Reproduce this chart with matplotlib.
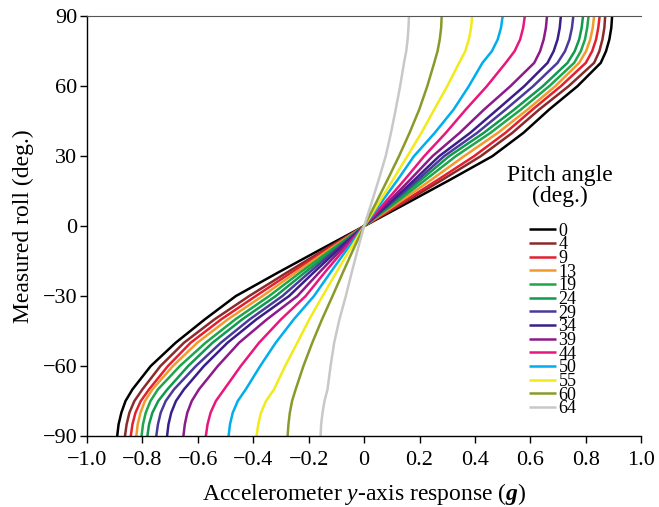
import matplotlib
matplotlib.use("Agg")
import matplotlib.pyplot as plt

plt.rcParams["font.family"] = "Liberation Serif"
plt.rcParams["mathtext.fontset"] = "custom"
plt.rcParams["mathtext.rm"] = "Liberation Serif"
plt.rcParams["mathtext.it"] = "Liberation Serif:italic"
plt.rcParams["mathtext.bf"] = "Liberation Serif:bold"
plt.rcParams["mathtext.bfit"] = "Liberation Serif:italic:bold"

# measured roll levels (deg.)
roll = [-90, -85, -80, -75, -70, -60, -50, -40, -30, -20, -10, 0,
        10, 20, 30, 40, 50, 60, 70, 75, 80, 85, 90]

pitch = [0, 4, 9, 13, 19, 24, 29, 34, 39, 44, 50, 55, 60, 64]

# accelerometer y-axis response (g) at each roll level, one list per pitch angle
resp_0 = [-0.891, -0.886, -0.876, -0.861, -0.836, -0.770, -0.680, -0.575, -0.463, -0.312, -0.157, 0.0,
          0.157, 0.312, 0.463, 0.575, 0.668, 0.770, 0.854, 0.873, 0.885, 0.892, 0.895]
resp_4 = [-0.863, -0.857, -0.847, -0.829, -0.800, -0.735, -0.650, -0.540, -0.415, -0.280, -0.141, 0.0,
          0.143, 0.284, 0.421, 0.535, 0.632, 0.738, 0.830, 0.849, 0.860, 0.867, 0.870]
resp_9 = [-0.842, -0.836, -0.825, -0.806, -0.776, -0.708, -0.626, -0.516, -0.391, -0.264, -0.133, 0.0,
          0.135, 0.268, 0.397, 0.510, 0.608, 0.710, 0.800, 0.823, 0.837, 0.845, 0.850]
resp_13 = [-0.822, -0.817, -0.807, -0.791, -0.764, -0.690, -0.602, -0.492, -0.367, -0.248, -0.125, 0.0,
           0.123, 0.244, 0.361, 0.483, 0.590, 0.690, 0.776, 0.801, 0.816, 0.825, 0.830]
resp_19 = [-0.803, -0.798, -0.788, -0.771, -0.744, -0.665, -0.572, -0.465, -0.343, -0.232, -0.117, 0.0,
           0.113, 0.223, 0.331, 0.456, 0.566, 0.668, 0.758, 0.782, 0.797, 0.805, 0.810]
resp_24 = [-0.782, -0.776, -0.764, -0.743, -0.710, -0.635, -0.547, -0.440, -0.319, -0.215, -0.108, 0.0,
           0.104, 0.207, 0.307, 0.432, 0.542, 0.645, 0.734, 0.760, 0.776, 0.785, 0.790]
resp_29 = [-0.750, -0.744, -0.734, -0.716, -0.686, -0.607, -0.517, -0.413, -0.295, -0.199, -0.100, 0.0,
           0.098, 0.195, 0.289, 0.408, 0.511, 0.610, 0.698, 0.725, 0.741, 0.750, 0.755]
resp_34 = [-0.711, -0.706, -0.696, -0.679, -0.650, -0.578, -0.493, -0.389, -0.271, -0.183, -0.092, 0.0,
           0.092, 0.183, 0.271, 0.383, 0.481, 0.578, 0.662, 0.684, 0.698, 0.706, 0.710]
resp_39 = [-0.652, -0.647, -0.638, -0.622, -0.596, -0.528, -0.451, -0.351, -0.241, -0.163, -0.082, 0.0,
           0.084, 0.167, 0.247, 0.345, 0.433, 0.528, 0.614, 0.635, 0.648, 0.656, 0.660]
resp_44 = [-0.571, -0.565, -0.554, -0.535, -0.505, -0.445, -0.379, -0.300, -0.211, -0.143, -0.072, 0.0,
           0.074, 0.147, 0.217, 0.295, 0.367, 0.443, 0.511, 0.543, 0.563, 0.574, 0.580]
resp_50 = [-0.489, -0.484, -0.474, -0.456, -0.427, -0.375, -0.319, -0.254, -0.181, -0.122, -0.062, 0.0,
           0.061, 0.122, 0.180, 0.255, 0.323, 0.378, 0.427, 0.461, 0.482, 0.494, 0.500]
resp_55 = [-0.388, -0.382, -0.372, -0.354, -0.325, -0.285, -0.241, -0.198, -0.150, -0.101, -0.051, 0.0,
           0.053, 0.105, 0.156, 0.207, 0.253, 0.300, 0.343, 0.365, 0.378, 0.386, 0.390]
resp_60 = [-0.276, -0.273, -0.268, -0.260, -0.247, -0.219, -0.187, -0.152, -0.114, -0.077, -0.039, 0.0,
           0.043, 0.085, 0.126, 0.164, 0.199, 0.228, 0.253, 0.265, 0.273, 0.278, 0.280]
resp_64 = [-0.157, -0.155, -0.150, -0.143, -0.132, -0.121, -0.108, -0.089, -0.066, -0.045, -0.023, 0.0,
           0.027, 0.053, 0.078, 0.097, 0.114, 0.130, 0.144, 0.152, 0.157, 0.160, 0.162]

responses = [resp_0, resp_4, resp_9, resp_13, resp_19, resp_24, resp_29,
             resp_34, resp_39, resp_44, resp_50, resp_55, resp_60, resp_64]

colors = ["#000000", "#8b2a2a", "#e3202e", "#f39a2b", "#1da64b", "#0f9a4e",
          "#4b3a9c", "#3a1f8a", "#8c1a8a", "#e8177d", "#00aeef", "#f2ea1a",
          "#8a9a2a", "#c8c8c8"]

x_ticks = [-1.0, -0.8, -0.6, -0.4, -0.2, 0, 0.2, 0.4, 0.6, 0.8, 1.0]
x_tick_labels = ["\u22121.0", "\u22120.8", "\u22120.6", "\u22120.4", "\u22120.2", "0",
                 "0.2", "0.4", "0.6", "0.8", "1.0"]
y_ticks = [-90, -60, -30, 0, 30, 60, 90]
y_tick_labels = ["\u221290", "\u221260", "\u221230", "0", "30", "60", "90"]

fig = plt.figure(figsize=(6.59, 5.07), dpi=100)
ax = fig.add_axes([0.132, 0.140, 0.841, 0.828])

for p, r, c in zip(pitch, responses, colors):
    ax.plot(r, roll, color=c, lw=1.8, label=str(p), solid_capstyle="butt",
            solid_joinstyle="round")

ax.set_xlim(-1.0, 1.0)
ax.set_ylim(-90, 90)
ax.set_xticks(x_ticks, x_tick_labels)
ax.set_yticks(y_ticks, y_tick_labels)
ax.tick_params(direction="out", length=5, width=1, pad=2, labelsize=16, colors="black")
ax.tick_params(axis="x", pad=6)

ax.spines["right"].set_visible(False)
ax.spines["top"].set_color("#555555")
for s in ("left", "bottom"):
    ax.spines[s].set_linewidth(1.0)

ax.set_xlabel(r"Accelerometer $\mathit{y}$-axis response ($\mathbfit{g}$)", fontsize=17, labelpad=8)
ax.set_ylabel("Measured roll (deg.)", fontsize=17, labelpad=6)

# legend heading drawn separately so the tight entry spacing does not squash it
ax.text(0.854, 0.645, "Pitch angle\n(deg.)", transform=ax.transAxes,
        ha="center", va="top", fontsize=17, linespacing=0.95)

leg = ax.legend(loc="upper left", bbox_to_anchor=(0.797, 0.508), frameon=False,
                fontsize=13, labelspacing=-0.185, handlelength=1.5,
                handletextpad=0.15, borderpad=0, borderaxespad=0)
for line in leg.get_lines():
    line.set_linewidth(1.8)

fig.savefig("out.png", dpi=100)
